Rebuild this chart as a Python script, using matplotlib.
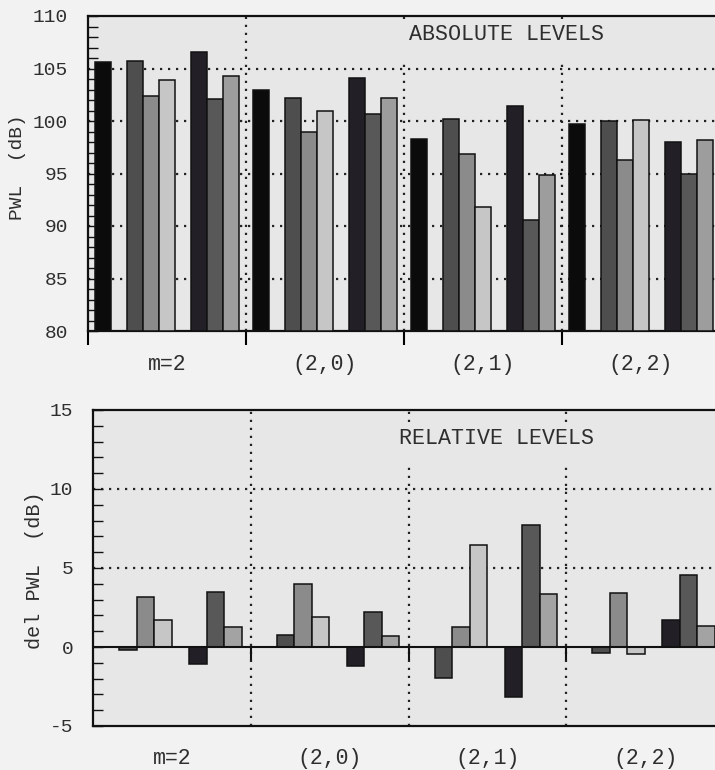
import numpy as np
import matplotlib.pyplot as plt
from matplotlib.patches import Rectangle

plt.rcParams['font.family'] = ['Liberation Mono', 'DejaVu Sans Mono']
plt.rcParams['axes.unicode_minus'] = False

groups = ['m=2', '(2,0)', '(2,1)', '(2,2)']

# absolute levels (dB), 7 bars per group
abs_a = [105.6, 103.0, 98.3, 99.75]
abs_b = [105.7, 102.2, 100.2, 100.0]
abs_c = [102.4, 98.95, 96.9, 96.3]
abs_d = [103.9, 101.0, 91.85, 100.1]
abs_e = [106.6, 104.1, 101.4, 98.0]
abs_f = [102.1, 100.7, 90.6, 95.0]
abs_g = [104.3, 102.2, 94.9, 98.2]

# relative levels (dB), 6 bars per group
rel_b = [-0.2, 0.78, -1.96, -0.38]
rel_c = [3.16, 4.0, 1.27, 3.42]
rel_d = [1.69, 1.88, 6.44, -0.42]
rel_e = [-1.1, -1.18, -3.18, 1.69]
rel_f = [3.48, 2.2, 7.7, 4.54]
rel_g = [1.29, 0.7, 3.38, 1.33]

top_series = [abs_a, abs_b, abs_c, abs_d, abs_e, abs_f, abs_g]
top_slots = [0, 2, 3, 4, 6, 7, 8]
top_cols = ['#0b0b0b', '#4e4e4e', '#8b8b8b', '#c6c6c6', '#231f27', '#585858', '#9d9d9d']

bot_series = [rel_b, rel_c, rel_d, rel_e, rel_f, rel_g]
bot_slots = [1, 2, 3, 5, 6, 7]
bot_cols = ['#4e4e4e', '#8b8b8b', '#c6c6c6', '#231f27', '#585858', '#a3a3a3']

W, H = 715, 770
BG_FIG = '#f2f2f2'
BG_AX = '#e7e7e7'
TXT = '#2e2e2e'
dot = (0, (1, 2.6))

fig = plt.figure(figsize=(W / 100, H / 100), dpi=100, facecolor=BG_FIG)
ax1 = fig.add_axes([88 / W, 1 - 331 / H, 632 / W, 315 / H])
ax2 = fig.add_axes([93 / W, 1 - 726 / H, 631 / W, 316 / H])

g = np.arange(len(groups))

# ---------------- top: absolute levels ----------------
w1, m1 = 16 / 158, 7 / 158
for vals, k, c in zip(top_series, top_slots, top_cols):
    x = g + m1 + (k + 0.5) * w1
    ax1.bar(x, np.array(vals) - 80, bottom=80, width=w1, color=c,
            edgecolor='#111111', linewidth=1.1, zorder=3)

ax1.set_xlim(0, 4)
ax1.set_ylim(80, 110)
for y in [85, 90, 95, 100, 105]:
    ax1.axhline(y, color='#222222', lw=1.6, ls=dot, zorder=1)
for x in [1, 2, 3]:
    ax1.axvline(x, color='#222222', lw=1.6, ls=dot, zorder=1)
ax1.add_patch(Rectangle((1.96, 105.7), 1.36, 3.55, facecolor=BG_AX,
                        edgecolor='none', zorder=2))
ax1.text(2.65, 108.2, 'ABSOLUTE LEVELS', ha='center', va='center',
         fontsize=15.6, color=TXT, zorder=4)

ax1.set_yticks(np.arange(80, 111, 5))
ax1.set_yticks(np.arange(80, 111, 1), minor=True)
ax1.set_xticks([0, 1, 2, 3, 4])
ax1.set_xticklabels([])
ax1.set_xticks(g + 0.5, minor=True)
ax1.set_xticklabels(groups, minor=True)
ax1.tick_params(axis='y', which='both', direction='in', length=7, width=1,
                labelsize=14, colors='#111111', labelcolor=TXT, pad=14.5)
ax1.tick_params(axis='x', which='major', direction='out', length=10, width=1.5)
ax1.tick_params(axis='x', which='minor', length=0, labelsize=15.5,
                labelcolor=TXT, pad=16.5)

# ---------------- bottom: relative levels ----------------
w2, m2 = 17.5 / 157.7, 8.5 / 157.7
for vals, k, c in zip(bot_series, bot_slots, bot_cols):
    x = g + m2 + (k + 0.5) * w2
    ax2.bar(x, vals, width=w2, color=c, edgecolor='#111111',
            linewidth=1.1, zorder=3)

ax2.set_xlim(0, 4)
ax2.set_ylim(-5, 15)
for y in [5, 10]:
    ax2.axhline(y, color='#222222', lw=1.6, ls=dot, zorder=1)
for x in [1, 2, 3]:
    ax2.axvline(x, color='#222222', lw=1.6, ls=dot, zorder=1)
ax2.add_patch(Rectangle((1.92, 11.7), 1.3, 2.35, facecolor=BG_AX,
                        edgecolor='none', zorder=2))
ax2.axhline(0, color='#111111', lw=1.5, zorder=4)
ax2.vlines([1, 2, 3], -0.85, 0, color='#111111', lw=1.5, zorder=4)
ax2.text(2.56, 13.2, 'RELATIVE LEVELS', ha='center', va='center',
         fontsize=15.6, color=TXT, zorder=4)

ax2.set_yticks(np.arange(-5, 16, 5))
ax2.set_yticks(np.arange(-5, 16, 1), minor=True)
ax2.set_xticks([])
ax2.set_xticks(g + 0.5, minor=True)
ax2.set_xticklabels(groups, minor=True)
ax2.tick_params(axis='y', which='both', direction='in', length=7, width=1,
                labelsize=14, colors='#111111', labelcolor=TXT, pad=14)
ax2.tick_params(axis='x', which='minor', length=0, labelsize=15.5,
                labelcolor=TXT, pad=16)

for ax in (ax1, ax2):
    ax.set_facecolor(BG_AX)
    for s in ax.spines.values():
        s.set_linewidth(1.6)
        s.set_color('#111111')

fig.text(18 / W, 1 - 167 / H, 'PWL  (dB)', rotation=90, ha='center',
         va='center', fontsize=14, color=TXT)
fig.text(35 / W, 1 - 570 / H, 'del PWL  (dB)', rotation=90, ha='center',
         va='center', fontsize=14.5, color=TXT)

fig.savefig('out.png', dpi=100, facecolor=BG_FIG)
